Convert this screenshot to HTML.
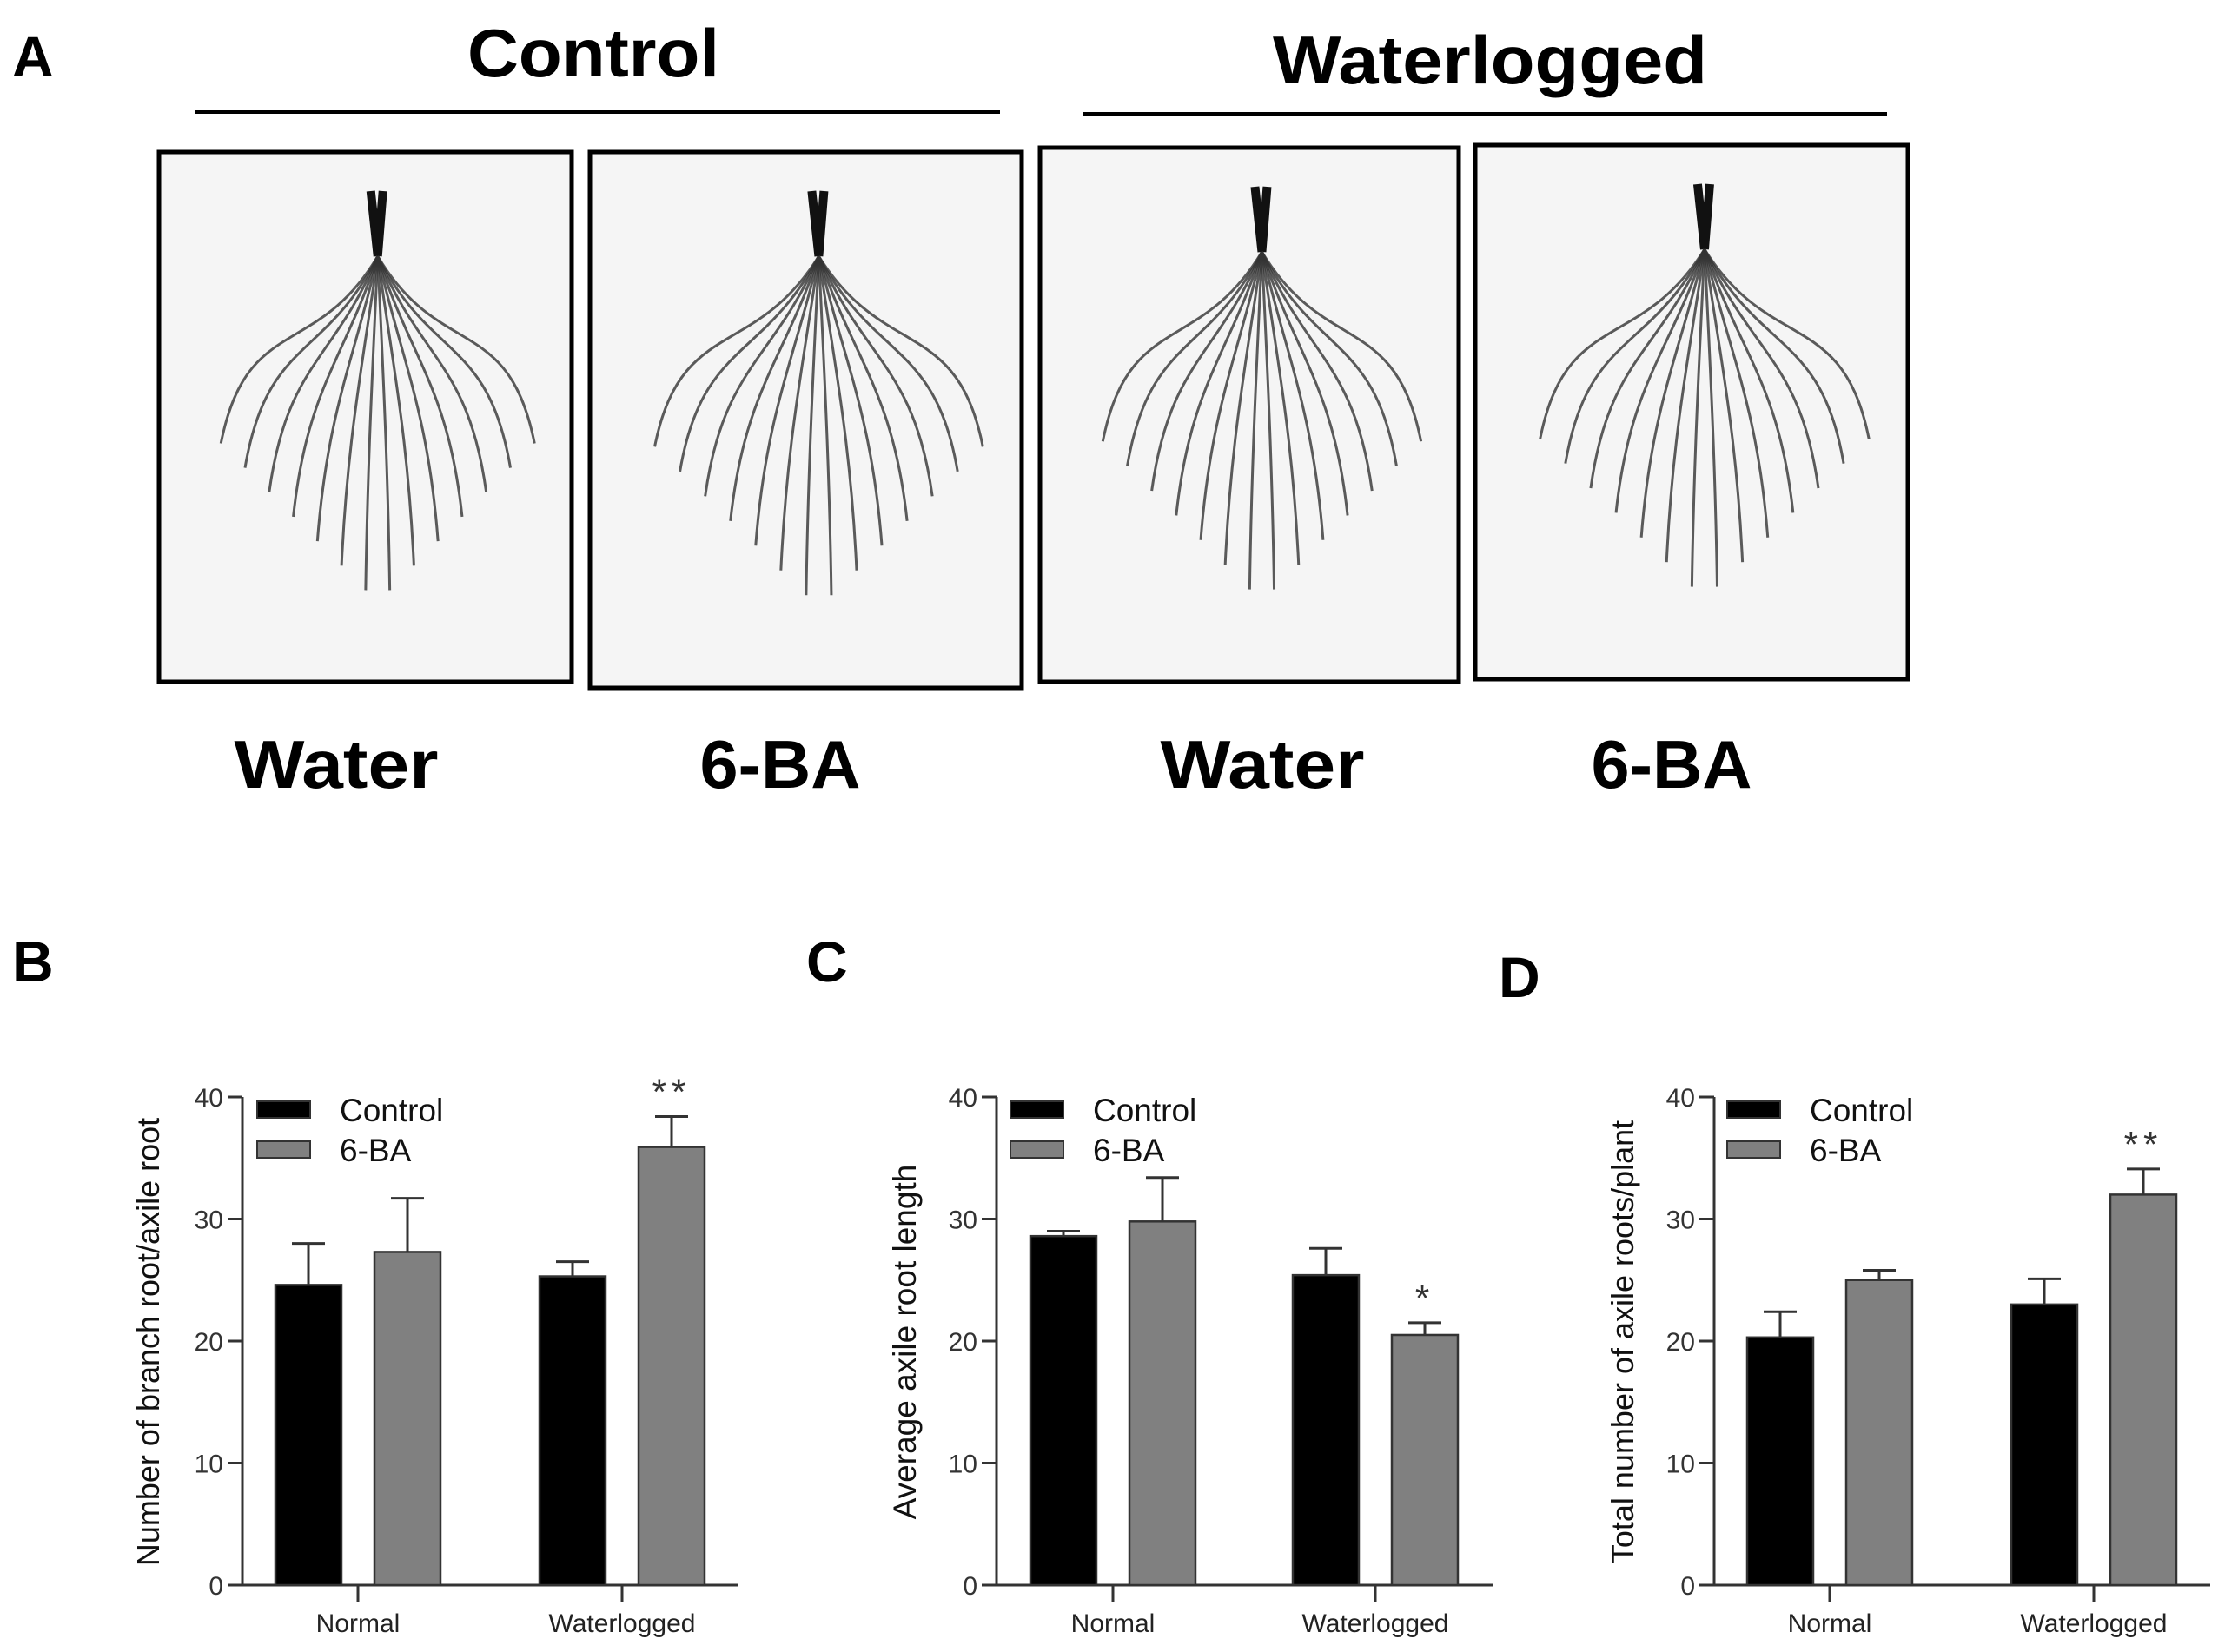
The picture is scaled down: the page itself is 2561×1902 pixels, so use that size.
<!DOCTYPE html>
<html><head><meta charset="utf-8"><style>
html,body{margin:0;padding:0;background:#fff;}
svg{display:block;}
.t{font-family:"Liberation Sans",Arial,sans-serif;}
.big{font-family:"Liberation Sans",sans-serif;font-weight:bold;}
</style></head><body>
<svg id="fig" width="2561" height="1902" viewBox="0 0 2561 1902" xmlns="http://www.w3.org/2000/svg">
<rect width="2561" height="1902" fill="#fff"/>
<g id="panelA">
<text class="big" x="14" y="88" font-size="66">A</text>
<text class="big" x="683" y="88" font-size="78" text-anchor="middle" textLength="290" lengthAdjust="spacingAndGlyphs">Control</text>
<line x1="224" y1="129" x2="1151" y2="129" stroke="#000" stroke-width="4"/>
<text class="big" x="1715" y="96" font-size="78" text-anchor="middle" textLength="500" lengthAdjust="spacingAndGlyphs">Waterlogged</text>
<line x1="1246" y1="131" x2="2172" y2="131" stroke="#000" stroke-width="4"/>
<text class="big" x="387" y="907" font-size="78" text-anchor="middle" textLength="235" lengthAdjust="spacingAndGlyphs">Water</text>
<text class="big" x="898" y="907" font-size="78" text-anchor="middle" textLength="185" lengthAdjust="spacingAndGlyphs">6-BA</text>
<text class="big" x="1453" y="907" font-size="78" text-anchor="middle" textLength="235" lengthAdjust="spacingAndGlyphs">Water</text>
<text class="big" x="1924" y="907" font-size="78" text-anchor="middle" textLength="185" lengthAdjust="spacingAndGlyphs">6-BA</text>
</g>
<g id="charts"></g>
</svg>
<script>
// Chart data
const categories = ["Normal", "Waterlogged"];
const seriesNames = ["Control", "6-BA"];
const yTicks = [0, 10, 20, 30, 40];
const bControl = [24.6, 25.3];
const bControlErr = [3.4, 1.2];
const b6BA = [27.3, 35.9];
const b6BAErr = [4.4, 2.5];
const bSig = ["", "**"];
const cControl = [28.6, 25.4];
const cControlErr = [0.4, 2.2];
const c6BA = [29.8, 20.5];
const c6BAErr = [3.6, 1.0];
const cSig = ["", "*"];
const dControl = [20.3, 23.0];
const dControlErr = [2.1, 2.1];
const d6BA = [25.0, 32.0];
const d6BAErr = [0.8, 2.1];
const dSig = ["", "**"];

const NS = "http://www.w3.org/2000/svg";
function mk(tag, attrs, parent) {
  const e = document.createElementNS(NS, tag);
  for (const k in attrs) e.setAttribute(k, attrs[k]);
  parent.appendChild(e);
  return e;
}

// Photo panels (approximate root images)
const photos = [[183,175,475,610],[679,175,497,617],[1197,170,482,615],[1698,167,498,615]];
const photoNames = ["photo-control-water","photo-control-6ba","photo-waterlogged-water","photo-waterlogged-6ba"];
const pa = document.getElementById('panelA');
photos.forEach((p, i) => {
  const g = mk('g', {}, pa);
  
  
  const r = mk('rect', {x:p[0], y:p[1], width:p[2], height:p[3], fill:'#f5f5f5', stroke:'#000', 'stroke-width':5}, g);
  
  
  const cx = p[0] + p[2]*0.53, top = p[1] + 45, hub = p[1] + 120;
  mk('path', {d:`M${cx-8},${top} L${cx},${hub} M${cx+6},${top} L${cx},${hub}`, stroke:'#111', 'stroke-width':10, fill:'none'}, g);
  const n = 14;
  for (let k = 0; k < n; k++) {
    const ang = -1 + 2*k/(n-1);
    const ex = cx + ang*p[2]*0.38;
    const ey = p[1] + p[3]*(0.55 + 0.3*(1-Math.abs(ang)));
    const c1x = cx + ang*p[2]*0.15, c1y = hub + 120;
    const c2x = ex - ang*30, c2y = ey - 150;
    mk('path', {d:`M${cx},${hub} C${c1x},${c1y} ${c2x},${c2y} ${ex},${ey}`, stroke:'#333', 'stroke-width':3, fill:'none', opacity:0.8}, g);
  }
});

const charts = document.getElementById('charts');
function drawChart(cfg) {
  const g = mk('g', {}, charts);
  
  
  const y0 = 1825, y40 = 1263;
  const ys = v => y0 - (v - 0) / 40 * (y0 - y40);
  const groupX = i => cfg.catX[i];
  const barW = 76, gap = 38;
  const L = mk('text', {x:cfg.letterX, y:cfg.letterY, 'font-size':66, class:'big'}, g);
  L.textContent = cfg.letter;
  
  
  const ya = mk('line', {x1:cfg.ax, y1:y40, x2:cfg.ax, y2:y0, stroke:'#333', 'stroke-width':3}, g);
  
  
  const xa = mk('line', {x1:cfg.ax - 17, y1:y0, x2:cfg.axEnd, y2:y0, stroke:'#333', 'stroke-width':3}, g);
  
  
  yTicks.forEach(t => {
    const y = ys(t);
    const tl = mk('line', {x1:cfg.ax - 17, y1:y, x2:cfg.ax, y2:y, stroke:'#333', 'stroke-width':3}, g);
    
    
    const tx = mk('text', {x:cfg.ax - 22, y:y + 11, 'font-size':30, 'text-anchor':'end', class:'t', fill:'#333'}, g);
    tx.textContent = t;
    
    
  });
  const yt = mk('text', {x:0, y:0, 'font-size':cfg.titleSize, 'text-anchor':'middle', class:'t', fill:'#111', transform:`translate(${cfg.titleX},1545) rotate(-90)`}, g);
  yt.textContent = cfg.title;
  
  
  categories.forEach((c, i) => {
    const cx = groupX(i);
    const tk = mk('line', {x1:cx, y1:y0, x2:cx, y2:y0 + 20, stroke:'#333', 'stroke-width':3}, g);
    
    
    const tx = mk('text', {x:cx, y:1879, 'font-size':30, 'text-anchor':'middle', class:'t', fill:'#222'}, g);
    tx.textContent = c;
    
    
    const series = [[cfg.ctrl, cfg.ctrlErr, '#000'], [cfg.ba, cfg.baErr, '#808080']];
    series.forEach((s, j) => {
      const v = s[0][i], e = s[1][i];
      const bx = j === 0 ? cx - gap/2 - barW : cx + gap/2;
      const mid = bx + barW/2;
      const el = mk('line', {x1:mid, y1:ys(v), x2:mid, y2:ys(v + e), stroke:'#333', 'stroke-width':3}, g);
      
      
      const ec = mk('line', {x1:mid - 19, y1:ys(v + e), x2:mid + 19, y2:ys(v + e), stroke:'#333', 'stroke-width':3}, g);
      
      
      const r = mk('rect', {x:bx, y:ys(v), width:barW, height:y0 - ys(v), fill:s[2], stroke:'#333', 'stroke-width':2.5}, g);
      
      
      if (j === 1 && cfg.sig[i]) {
        const st = mk('text', {x:mid, y:ys(v + e) - 14, 'font-size':42, 'text-anchor':'middle', class:'t', fill:'#333', 'letter-spacing':6}, g);
        st.textContent = cfg.sig[i];
        
        
      }
    });
  });
  const cols = ['#000', '#808080'];
  seriesNames.forEach((n, j) => {
    const ly = 1268 + j*46;
    const sw = mk('rect', {x:cfg.legX, y:ly, width:61, height:19, fill:cols[j], stroke:'#333', 'stroke-width':2}, g);
    
    
    const lt = mk('text', {x:cfg.legX + 95, y:ly + 23, 'font-size':37, class:'t', fill:'#111'}, g);
    lt.textContent = n;
    
    
  });
}

drawChart({name:'chart-b', letter:'B', letterX:14, letterY:1130, ax:279, axEnd:850, catX:[412,716], ctrl:bControl, ctrlErr:bControlErr, ba:b6BA, baErr:b6BAErr, sig:bSig, title:'Number of branch root/axile root', titleX:183, titleSize:36, legX:296});
drawChart({name:'chart-c', letter:'C', letterX:928, letterY:1130, ax:1147, axEnd:1718, catX:[1281,1583], ctrl:cControl, ctrlErr:cControlErr, ba:c6BA, baErr:c6BAErr, sig:cSig, title:'Average axile root length', titleX:1054, titleSize:37, legX:1163});
drawChart({name:'chart-d', letter:'D', letterX:1725, letterY:1148, ax:1973, axEnd:2544, catX:[2106,2410], ctrl:dControl, ctrlErr:dControlErr, ba:d6BA, baErr:d6BAErr, sig:dSig, title:'Total number of axile roots/plant', titleX:1880, titleSize:36, legX:1988});
</script>
</body></html>
